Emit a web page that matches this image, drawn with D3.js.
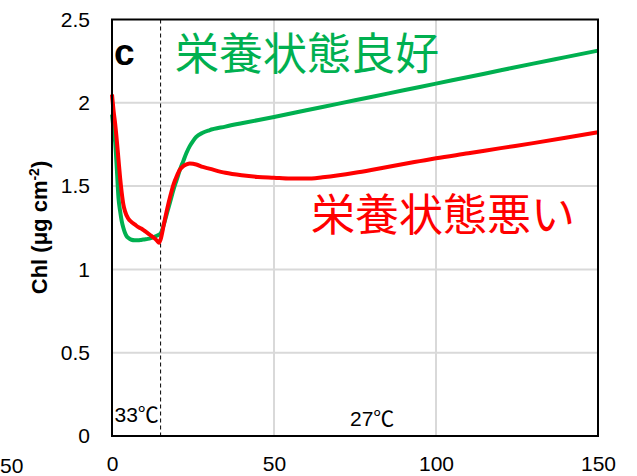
<!DOCTYPE html>
<html>
<head>
<meta charset="utf-8">
<script src="https://cdn.jsdelivr.net/npm/d3@7"></script>
<style>
  html, body { margin: 0; padding: 0; background: #fff; }
  svg { display: block; }
</style>
</head>
<body>
<svg id="chart" width="637" height="476"></svg>
<script>
// Chlorophyll content over time (days), two nutrition states
const goodDays = [0, 0.5, 1, 1.5, 2, 2.5, 3, 3.5, 4, 4.5, 5, 6, 7, 8, 9, 10, 11, 12, 13, 14, 15,
  16, 17, 18, 19, 20, 21, 22, 23, 24, 25, 26, 28, 30, 35, 40, 50, 60, 70, 80, 90, 100, 110, 120, 130, 140, 150];
const goodChl = [1.93, 1.84, 1.76, 1.60, 1.43, 1.35, 1.29, 1.25, 1.22, 1.20, 1.19, 1.178, 1.175, 1.175, 1.177, 1.18, 1.183, 1.188, 1.195, 1.203, 1.215,
  1.27, 1.34, 1.41, 1.48, 1.54, 1.60, 1.65, 1.70, 1.74, 1.77, 1.795, 1.82, 1.835, 1.857, 1.877, 1.915, 1.955, 1.995, 2.035, 2.075, 2.115, 2.155, 2.195, 2.235, 2.274, 2.313];

const poorDays = [0, 0.5, 1, 1.5, 2, 2.5, 3, 3.5, 4, 5, 6, 7, 8, 9, 10, 11, 12, 13, 14, 14.5, 15,
  16, 17, 18, 19, 20, 21, 22, 23, 24, 26, 28, 30, 35, 40, 45, 50, 55, 60, 65, 70, 75, 80, 85, 90, 95, 100, 110, 120, 130, 140, 150];
const poorChl = [2.05, 1.95, 1.87, 1.77, 1.66, 1.55, 1.46, 1.39, 1.35, 1.305, 1.285, 1.27, 1.255, 1.245, 1.232, 1.218, 1.203, 1.188, 1.17, 1.16, 1.18,
  1.27, 1.36, 1.44, 1.51, 1.56, 1.60, 1.62, 1.63, 1.635, 1.63, 1.615, 1.605, 1.58, 1.565, 1.555, 1.55, 1.545, 1.545, 1.553, 1.565, 1.58, 1.597, 1.615, 1.633, 1.65, 1.667, 1.697, 1.728, 1.758, 1.79, 1.823];

const yTicks = [0, 0.5, 1, 1.5, 2, 2.5];
const yTickLabels = ["0", "0.5", "1", "1.5", "2", "2.5"];
const xTicks = [0, 50, 100, 150];
const xTickLabels = ["0", "50", "100", "150"];
const switchDay = 15;

const latin = "Arial, 'Liberation Sans', sans-serif";
const cjk = "'Noto Sans CJK JP', sans-serif";
const mixed = "Arial, 'Liberation Sans', 'Noto Sans CJK JP', sans-serif";

const svg = d3.select("#chart");
const x = d3.scaleLinear().domain([0, 150]).range([112, 598]);
const y = d3.scaleLinear().domain([0, 2.5]).range([436, 19.5]);

// grid lines
const grid = svg.append("g");
grid.selectAll("line.h").data(yTicks.filter(v => v > 0 && v < 2.5)).join("line")
  .attr("x1", x(0)).attr("x2", x(150))
  .attr("y1", d => y(d)).attr("y2", d => y(d))
  .attr("stroke", "#d9d9d9").attr("stroke-width", 2);
grid.selectAll("line.v").data(xTicks.filter(v => v > 0 && v < 150)).join("line")
  .attr("x1", d => x(d)).attr("x2", d => x(d))
  .attr("y1", y(0)).attr("y2", y(2.5))
  .attr("stroke", "#d9d9d9").attr("stroke-width", 2);

// axes (labels only)
const yAxis = d3.axisLeft(y).tickValues(yTicks)
  .tickFormat((d, i) => yTickLabels[i]).tickSize(0).tickPadding(22);
svg.append("g").attr("transform", `translate(${x(0)},0)`).call(yAxis)
  .call(g => g.select(".domain").remove())
  .selectAll("text").attr("font-family", latin).attr("font-size", 21).attr("fill", "#000");

const xAxis = d3.axisBottom(x).tickValues(xTicks)
  .tickFormat((d, i) => xTickLabels[i]).tickSize(0).tickPadding(20);
svg.append("g").attr("transform", `translate(0,${y(0)})`).call(xAxis)
  .call(g => g.select(".domain").remove())
  .selectAll("text").attr("font-family", latin).attr("font-size", 21).attr("fill", "#000");

// neighbouring panel's last tick label at the left edge
svg.append("text").attr("x", 0).attr("y", 473)
  .attr("font-family", latin).attr("font-size", 21).text("50");

// temperature switch
svg.append("line")
  .attr("x1", x(switchDay)).attr("x2", x(switchDay))
  .attr("y1", y(2.5)).attr("y2", y(0))
  .attr("stroke", "#000").attr("stroke-width", 1).attr("stroke-dasharray", "4,3");

// series
const line = d3.line().x(d => x(d[0])).y(d => y(d[1])).curve(d3.curveMonotoneX);
svg.append("path").datum(d3.zip(goodDays, goodChl))
  .attr("d", line).attr("fill", "none").attr("stroke", "#00b050").attr("stroke-width", 4)
  .attr("stroke-linejoin", "round");
svg.append("path").datum(d3.zip(poorDays, poorChl))
  .attr("d", line).attr("fill", "none").attr("stroke", "#ff0000").attr("stroke-width", 4)
  .attr("stroke-linejoin", "round");

// frame
svg.append("rect")
  .attr("x", x(0)).attr("y", y(2.5))
  .attr("width", x(150) - x(0)).attr("height", y(0) - y(2.5))
  .attr("fill", "none").attr("stroke", "#000").attr("stroke-width", 2);

// annotations
svg.append("text").attr("x", 114).attr("y", 65)
  .attr("font-family", latin).attr("font-weight", "bold").attr("font-size", 37).text("c");
svg.append("text").attr("x", 175).attr("y", 70)
  .attr("font-family", cjk).attr("font-size", 44).attr("fill", "#00b050").text("栄養状態良好");
svg.append("text").attr("x", 311).attr("y", 231)
  .attr("font-family", cjk).attr("font-size", 44).attr("fill", "#ff0000").text("栄養状態悪い");
svg.append("text").attr("x", 114.5).attr("y", 421.5)
  .attr("font-family", mixed).attr("font-size", 21).text("33℃");
svg.append("text").attr("x", 350).attr("y", 426)
  .attr("font-family", mixed).attr("font-size", 21).text("27℃");

// y-axis title
const title = svg.append("text")
  .attr("transform", "translate(46.5,227.5) rotate(-90)")
  .attr("text-anchor", "middle")
  .attr("font-family", latin).attr("font-weight", "bold").attr("font-size", 22);
title.append("tspan").text("Chl (μg cm");
title.append("tspan").attr("dy", -8).attr("font-size", 14).text("-2");
title.append("tspan").attr("dy", 8).text(")");
</script>
</body>
</html>
